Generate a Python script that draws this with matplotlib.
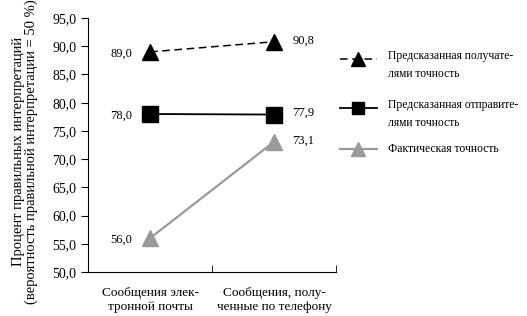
import matplotlib.pyplot as plt
from matplotlib.lines import Line2D

plt.rcParams['font.family'] = ['Liberation Serif', 'DejaVu Serif']

categories = ['Сообщения элек-\nтронной почты', 'Сообщения, полу-\nченные по телефону']
receivers = [89.0, 90.8]
senders = [78.0, 77.9]
actual = [56.0, 73.1]
legend_labels = ['Предсказанная получате-\nлями точность',
                 'Предсказанная отправите-\nлями точность',
                 'Фактическая точность']
yticks = [50, 55, 60, 65, 70, 75, 80, 85, 90, 95]

fig = plt.figure(figsize=(5.27, 3.16), dpi=100)
ax = fig.add_axes([0.167, 0.139, 0.471, 0.804])

x = [0, 1]
gray = '#9a9a9a'
ax.plot(x, receivers, color='black', linestyle=(0, (5, 3)), lw=1.1,
        marker='^', markersize=12, clip_on=False)
ax.plot(x, senders, color='black', lw=1.3, marker='s', markersize=11, clip_on=False)
ax.plot(x, actual, color=gray, lw=1.6, marker='^', markersize=12, clip_on=False)

def fmt(v):
    return f'{v:.1f}'.replace('.', ',')

for series in (receivers, senders, actual):
    ax.annotate(fmt(series[0]), (0, series[0]), xytext=(-13, -1), textcoords='offset points',
                ha='right', va='center', fontsize=9)
    ax.annotate(fmt(series[1]), (1, series[1]), xytext=(13, 1), textcoords='offset points',
                ha='left', va='center', fontsize=9)

ax.set_xlim(-0.5, 1.5)
ax.set_ylim(50, 95)
ax.set_yticks(yticks)
ax.set_yticklabels([fmt(v) for v in yticks], fontsize=10)
ax.set_xticks(x)
ax.set_xticklabels(categories, fontsize=9.5)
ax.tick_params(axis='x', length=0, pad=11)
ax.set_xticks([0.5, 1.5], minor=True)
ax.tick_params(axis='x', which='minor', direction='in', length=5)
ax.tick_params(axis='y', direction='out', length=5)
ax.spines['top'].set_visible(False)
ax.spines['right'].set_visible(False)
ax.set_ylabel('Процент правильных интерпретаций\n(вероятность правильной интерпретации = 50 %)',
              fontsize=10.5, linespacing=1.0)
ax.yaxis.set_label_coords(-0.2, 0.475)

# legend drawn by hand
rows = [(316 - 59) / 316, (316 - 108) / 316, (316 - 149) / 316]
styles = [dict(color='black', linestyle=(0, (5, 3)), lw=1.1, marker='^', markersize=10),
          dict(color='black', lw=1.3, marker='s', markersize=9),
          dict(color=gray, lw=1.6, marker='^', markersize=10)]
x0, x1 = 340 / 527, 377 / 527
for yy, st, lab in zip(rows, styles, legend_labels):
    fig.add_artist(Line2D([x0, x1], [yy, yy], transform=fig.transFigure,
                          color=st['color'], linestyle=st.get('linestyle', '-'), lw=st['lw']))
    fig.add_artist(Line2D([(x0 + x1) / 2], [yy], transform=fig.transFigure,
                          color=st['color'], marker=st['marker'],
                          markersize=st['markersize'], linestyle='none'))
    if '\n' in lab:
        fig.text(388 / 527, yy + 0.028, lab, fontsize=8.4, va='top', ha='left', linespacing=1.7)
    else:
        fig.text(388 / 527, yy, lab, fontsize=8.4, va='center', ha='left')

fig.savefig('out.png', dpi=100)
